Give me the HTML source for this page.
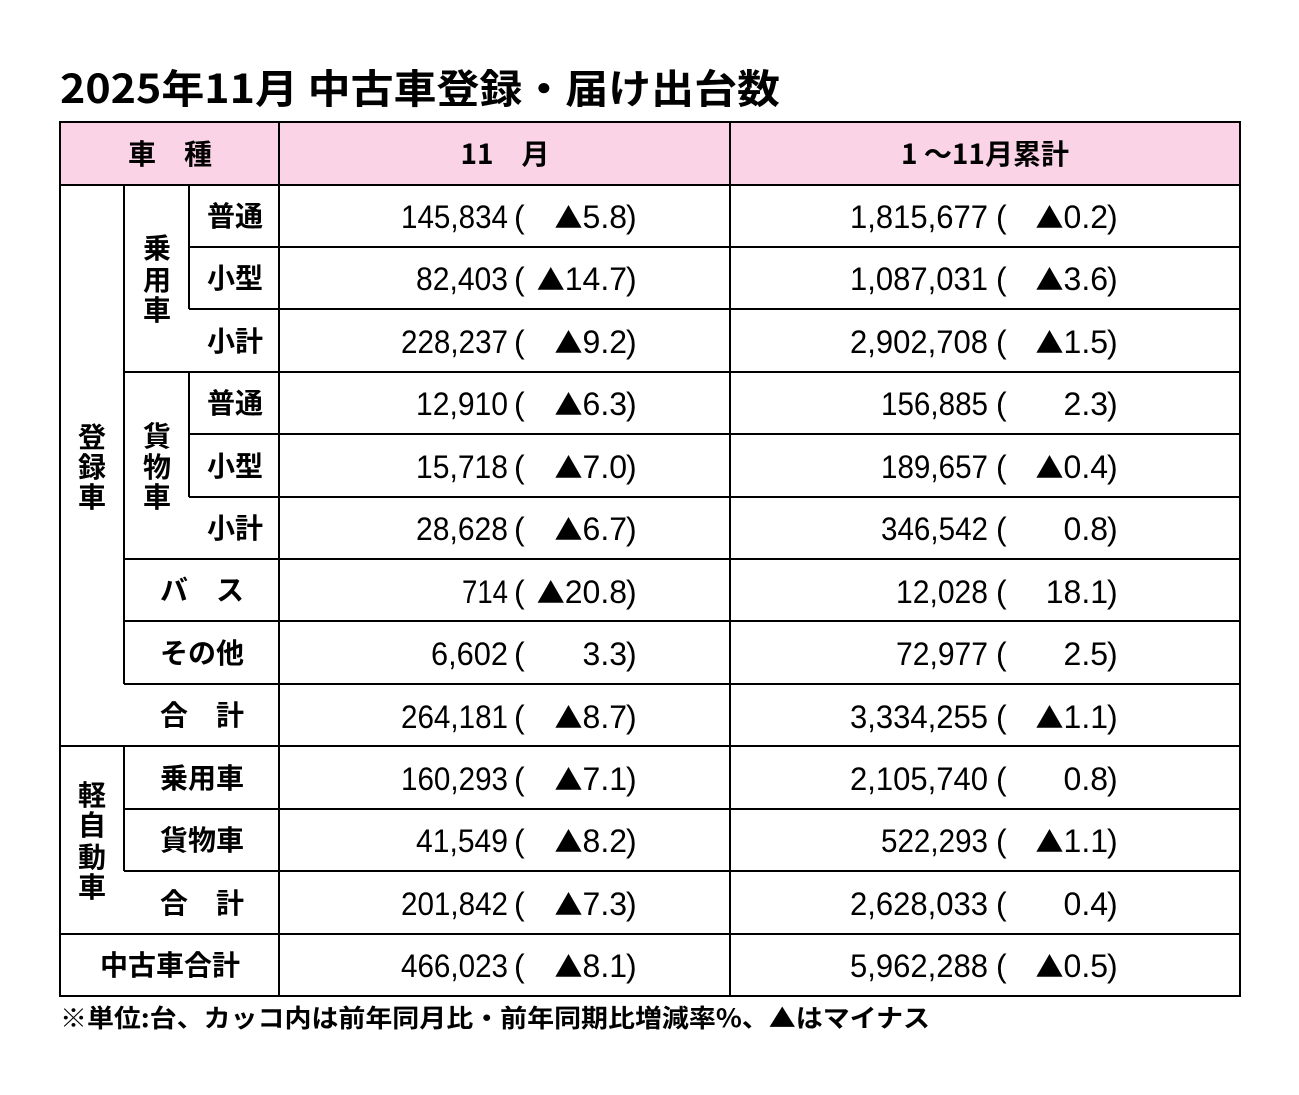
<!DOCTYPE html>
<html><head><meta charset="utf-8"><style>
html,body{margin:0;padding:0;background:#fff;}
svg{display:block;}
text{font-family:"Liberation Sans","Noto Sans CJK JP",sans-serif;fill:#000;}
.c{font-family:"Noto Sans CJK JP",sans-serif;font-size:28px;font-weight:bold;}
.n text{font-family:"Liberation Sans","Noto Sans CJK JP",sans-serif;font-size:32px;}
.n tspan{font-family:"Noto Sans CJK JP",sans-serif;font-size:28px;}
</style></head><body>
<svg width="1299" height="1095" xmlns="http://www.w3.org/2000/svg">
<text x="60" y="103" style="font-family:'Noto Sans CJK JP',sans-serif;font-size:40px;font-weight:bold;" textLength="720" lengthAdjust="spacingAndGlyphs">2025年11月 中古車登録・届け出台数</text>
<rect x="60" y="122" width="1180" height="63" fill="#fbd3e6"/>
<g stroke="#000" stroke-width="2" fill="none">
<rect x="60" y="122" width="1180" height="874"/>
<line x1="60" y1="185" x2="1240" y2="185"/>
<line x1="279" y1="122" x2="279" y2="996"/>
<line x1="730" y1="122" x2="730" y2="996"/>
<line x1="124" y1="185" x2="124" y2="684"/>
<line x1="189" y1="185" x2="189" y2="309"/>
<line x1="189" y1="372" x2="189" y2="497"/>
<line x1="189" y1="247" x2="1240" y2="247"/>
<line x1="189" y1="309" x2="1240" y2="309"/>
<line x1="124" y1="372" x2="1240" y2="372"/>
<line x1="189" y1="434" x2="1240" y2="434"/>
<line x1="189" y1="497" x2="1240" y2="497"/>
<line x1="124" y1="559" x2="1240" y2="559"/>
<line x1="124" y1="621" x2="1240" y2="621"/>
<line x1="124" y1="684" x2="1240" y2="684"/>
<line x1="60" y1="746" x2="1240" y2="746"/>
<line x1="124" y1="746" x2="124" y2="871"/>
<line x1="124" y1="809" x2="1240" y2="809"/>
<line x1="124" y1="871" x2="1240" y2="871"/>
<line x1="60" y1="934" x2="1240" y2="934"/>
</g>
<g>
<text x="170" y="164" text-anchor="middle" class="c">車　種</text>
<text x="505" y="164" text-anchor="middle" class="c">11　月</text>
<text x="985" y="164" text-anchor="middle" class="c">1 ～11月累計</text>
<text x="92" y="447" text-anchor="middle" class="c">登</text>
<text x="92" y="477" text-anchor="middle" class="c">録</text>
<text x="92" y="507" text-anchor="middle" class="c">車</text>
<text x="157" y="258" text-anchor="middle" class="c">乗</text>
<text x="157" y="290" text-anchor="middle" class="c">用</text>
<text x="157" y="320" text-anchor="middle" class="c">車</text>
<text x="157" y="446" text-anchor="middle" class="c">貨</text>
<text x="157" y="477" text-anchor="middle" class="c">物</text>
<text x="157" y="507" text-anchor="middle" class="c">車</text>
<text x="92" y="805" text-anchor="middle" class="c">軽</text>
<text x="92" y="835" text-anchor="middle" class="c">自</text>
<text x="92" y="867" text-anchor="middle" class="c">動</text>
<text x="92" y="897" text-anchor="middle" class="c">車</text>
<text x="235" y="226" text-anchor="middle" class="c">普通</text>
<text x="235" y="288" text-anchor="middle" class="c">小型</text>
<text x="235" y="351" text-anchor="middle" class="c">小計</text>
<text x="235" y="413" text-anchor="middle" class="c">普通</text>
<text x="235" y="476" text-anchor="middle" class="c">小型</text>
<text x="235" y="538" text-anchor="middle" class="c">小計</text>
<text x="202" y="600" text-anchor="middle" class="c">バ　ス</text>
<text x="202" y="663" text-anchor="middle" class="c">その他</text>
<text x="202" y="725" text-anchor="middle" class="c">合　計</text>
<text x="202" y="788" text-anchor="middle" class="c">乗用車</text>
<text x="202" y="850" text-anchor="middle" class="c">貨物車</text>
<text x="202" y="913" text-anchor="middle" class="c">合　計</text>
<text x="170" y="975" text-anchor="middle" class="c">中古車合計</text>
</g>
<g class="n">
<text x="508" y="228" text-anchor="end" textLength="107" lengthAdjust="spacingAndGlyphs">145,834</text><text x="514" y="228">(</text><text x="627" y="228" text-anchor="end"><tspan>▲</tspan>5.8</text><text x="626" y="228">)</text>
<text x="988" y="228" text-anchor="end" textLength="138" lengthAdjust="spacingAndGlyphs">1,815,677</text><text x="996" y="228">(</text><text x="1108" y="228" text-anchor="end"><tspan>▲</tspan>0.2</text><text x="1107" y="228">)</text>

<text x="508" y="290" text-anchor="end" textLength="92" lengthAdjust="spacingAndGlyphs">82,403</text><text x="514" y="290">(</text><text x="627" y="290" text-anchor="end"><tspan>▲</tspan>14.7</text><text x="626" y="290">)</text>
<text x="988" y="290" text-anchor="end" textLength="138" lengthAdjust="spacingAndGlyphs">1,087,031</text><text x="996" y="290">(</text><text x="1108" y="290" text-anchor="end"><tspan>▲</tspan>3.6</text><text x="1107" y="290">)</text>

<text x="508" y="353" text-anchor="end" textLength="107" lengthAdjust="spacingAndGlyphs">228,237</text><text x="514" y="353">(</text><text x="627" y="353" text-anchor="end"><tspan>▲</tspan>9.2</text><text x="626" y="353">)</text>
<text x="988" y="353" text-anchor="end" textLength="138" lengthAdjust="spacingAndGlyphs">2,902,708</text><text x="996" y="353">(</text><text x="1108" y="353" text-anchor="end"><tspan>▲</tspan>1.5</text><text x="1107" y="353">)</text>

<text x="508" y="415" text-anchor="end" textLength="92" lengthAdjust="spacingAndGlyphs">12,910</text><text x="514" y="415">(</text><text x="627" y="415" text-anchor="end"><tspan>▲</tspan>6.3</text><text x="626" y="415">)</text>
<text x="988" y="415" text-anchor="end" textLength="107" lengthAdjust="spacingAndGlyphs">156,885</text><text x="996" y="415">(</text><text x="1108" y="415" text-anchor="end">2.3</text><text x="1107" y="415">)</text>

<text x="508" y="478" text-anchor="end" textLength="92" lengthAdjust="spacingAndGlyphs">15,718</text><text x="514" y="478">(</text><text x="627" y="478" text-anchor="end"><tspan>▲</tspan>7.0</text><text x="626" y="478">)</text>
<text x="988" y="478" text-anchor="end" textLength="107" lengthAdjust="spacingAndGlyphs">189,657</text><text x="996" y="478">(</text><text x="1108" y="478" text-anchor="end"><tspan>▲</tspan>0.4</text><text x="1107" y="478">)</text>

<text x="508" y="540" text-anchor="end" textLength="92" lengthAdjust="spacingAndGlyphs">28,628</text><text x="514" y="540">(</text><text x="627" y="540" text-anchor="end"><tspan>▲</tspan>6.7</text><text x="626" y="540">)</text>
<text x="988" y="540" text-anchor="end" textLength="107" lengthAdjust="spacingAndGlyphs">346,542</text><text x="996" y="540">(</text><text x="1108" y="540" text-anchor="end">0.8</text><text x="1107" y="540">)</text>

<text x="508" y="603" text-anchor="end" textLength="46" lengthAdjust="spacingAndGlyphs">714</text><text x="514" y="603">(</text><text x="627" y="603" text-anchor="end"><tspan>▲</tspan>20.8</text><text x="626" y="603">)</text>
<text x="988" y="603" text-anchor="end" textLength="92" lengthAdjust="spacingAndGlyphs">12,028</text><text x="996" y="603">(</text><text x="1108" y="603" text-anchor="end">18.1</text><text x="1107" y="603">)</text>

<text x="508" y="665" text-anchor="end" textLength="77" lengthAdjust="spacingAndGlyphs">6,602</text><text x="514" y="665">(</text><text x="627" y="665" text-anchor="end">3.3</text><text x="626" y="665">)</text>
<text x="988" y="665" text-anchor="end" textLength="92" lengthAdjust="spacingAndGlyphs">72,977</text><text x="996" y="665">(</text><text x="1108" y="665" text-anchor="end">2.5</text><text x="1107" y="665">)</text>

<text x="508" y="728" text-anchor="end" textLength="107" lengthAdjust="spacingAndGlyphs">264,181</text><text x="514" y="728">(</text><text x="627" y="728" text-anchor="end"><tspan>▲</tspan>8.7</text><text x="626" y="728">)</text>
<text x="988" y="728" text-anchor="end" textLength="138" lengthAdjust="spacingAndGlyphs">3,334,255</text><text x="996" y="728">(</text><text x="1108" y="728" text-anchor="end"><tspan>▲</tspan>1.1</text><text x="1107" y="728">)</text>

<text x="508" y="790" text-anchor="end" textLength="107" lengthAdjust="spacingAndGlyphs">160,293</text><text x="514" y="790">(</text><text x="627" y="790" text-anchor="end"><tspan>▲</tspan>7.1</text><text x="626" y="790">)</text>
<text x="988" y="790" text-anchor="end" textLength="138" lengthAdjust="spacingAndGlyphs">2,105,740</text><text x="996" y="790">(</text><text x="1108" y="790" text-anchor="end">0.8</text><text x="1107" y="790">)</text>

<text x="508" y="852" text-anchor="end" textLength="92" lengthAdjust="spacingAndGlyphs">41,549</text><text x="514" y="852">(</text><text x="627" y="852" text-anchor="end"><tspan>▲</tspan>8.2</text><text x="626" y="852">)</text>
<text x="988" y="852" text-anchor="end" textLength="107" lengthAdjust="spacingAndGlyphs">522,293</text><text x="996" y="852">(</text><text x="1108" y="852" text-anchor="end"><tspan>▲</tspan>1.1</text><text x="1107" y="852">)</text>

<text x="508" y="915" text-anchor="end" textLength="107" lengthAdjust="spacingAndGlyphs">201,842</text><text x="514" y="915">(</text><text x="627" y="915" text-anchor="end"><tspan>▲</tspan>7.3</text><text x="626" y="915">)</text>
<text x="988" y="915" text-anchor="end" textLength="138" lengthAdjust="spacingAndGlyphs">2,628,033</text><text x="996" y="915">(</text><text x="1108" y="915" text-anchor="end">0.4</text><text x="1107" y="915">)</text>

<text x="508" y="977" text-anchor="end" textLength="107" lengthAdjust="spacingAndGlyphs">466,023</text><text x="514" y="977">(</text><text x="627" y="977" text-anchor="end"><tspan>▲</tspan>8.1</text><text x="626" y="977">)</text>
<text x="988" y="977" text-anchor="end" textLength="138" lengthAdjust="spacingAndGlyphs">5,962,288</text><text x="996" y="977">(</text><text x="1108" y="977" text-anchor="end"><tspan>▲</tspan>0.5</text><text x="1107" y="977">)</text>
</g>
<text x="60" y="1027" style="font-family:'Noto Sans CJK JP',sans-serif;font-size:25px;font-weight:bold;" textLength="870" lengthAdjust="spacingAndGlyphs">※単位:台、カッコ内は前年同月比・前年同期比増減率%、▲はマイナス</text>
</svg>
</body></html>
